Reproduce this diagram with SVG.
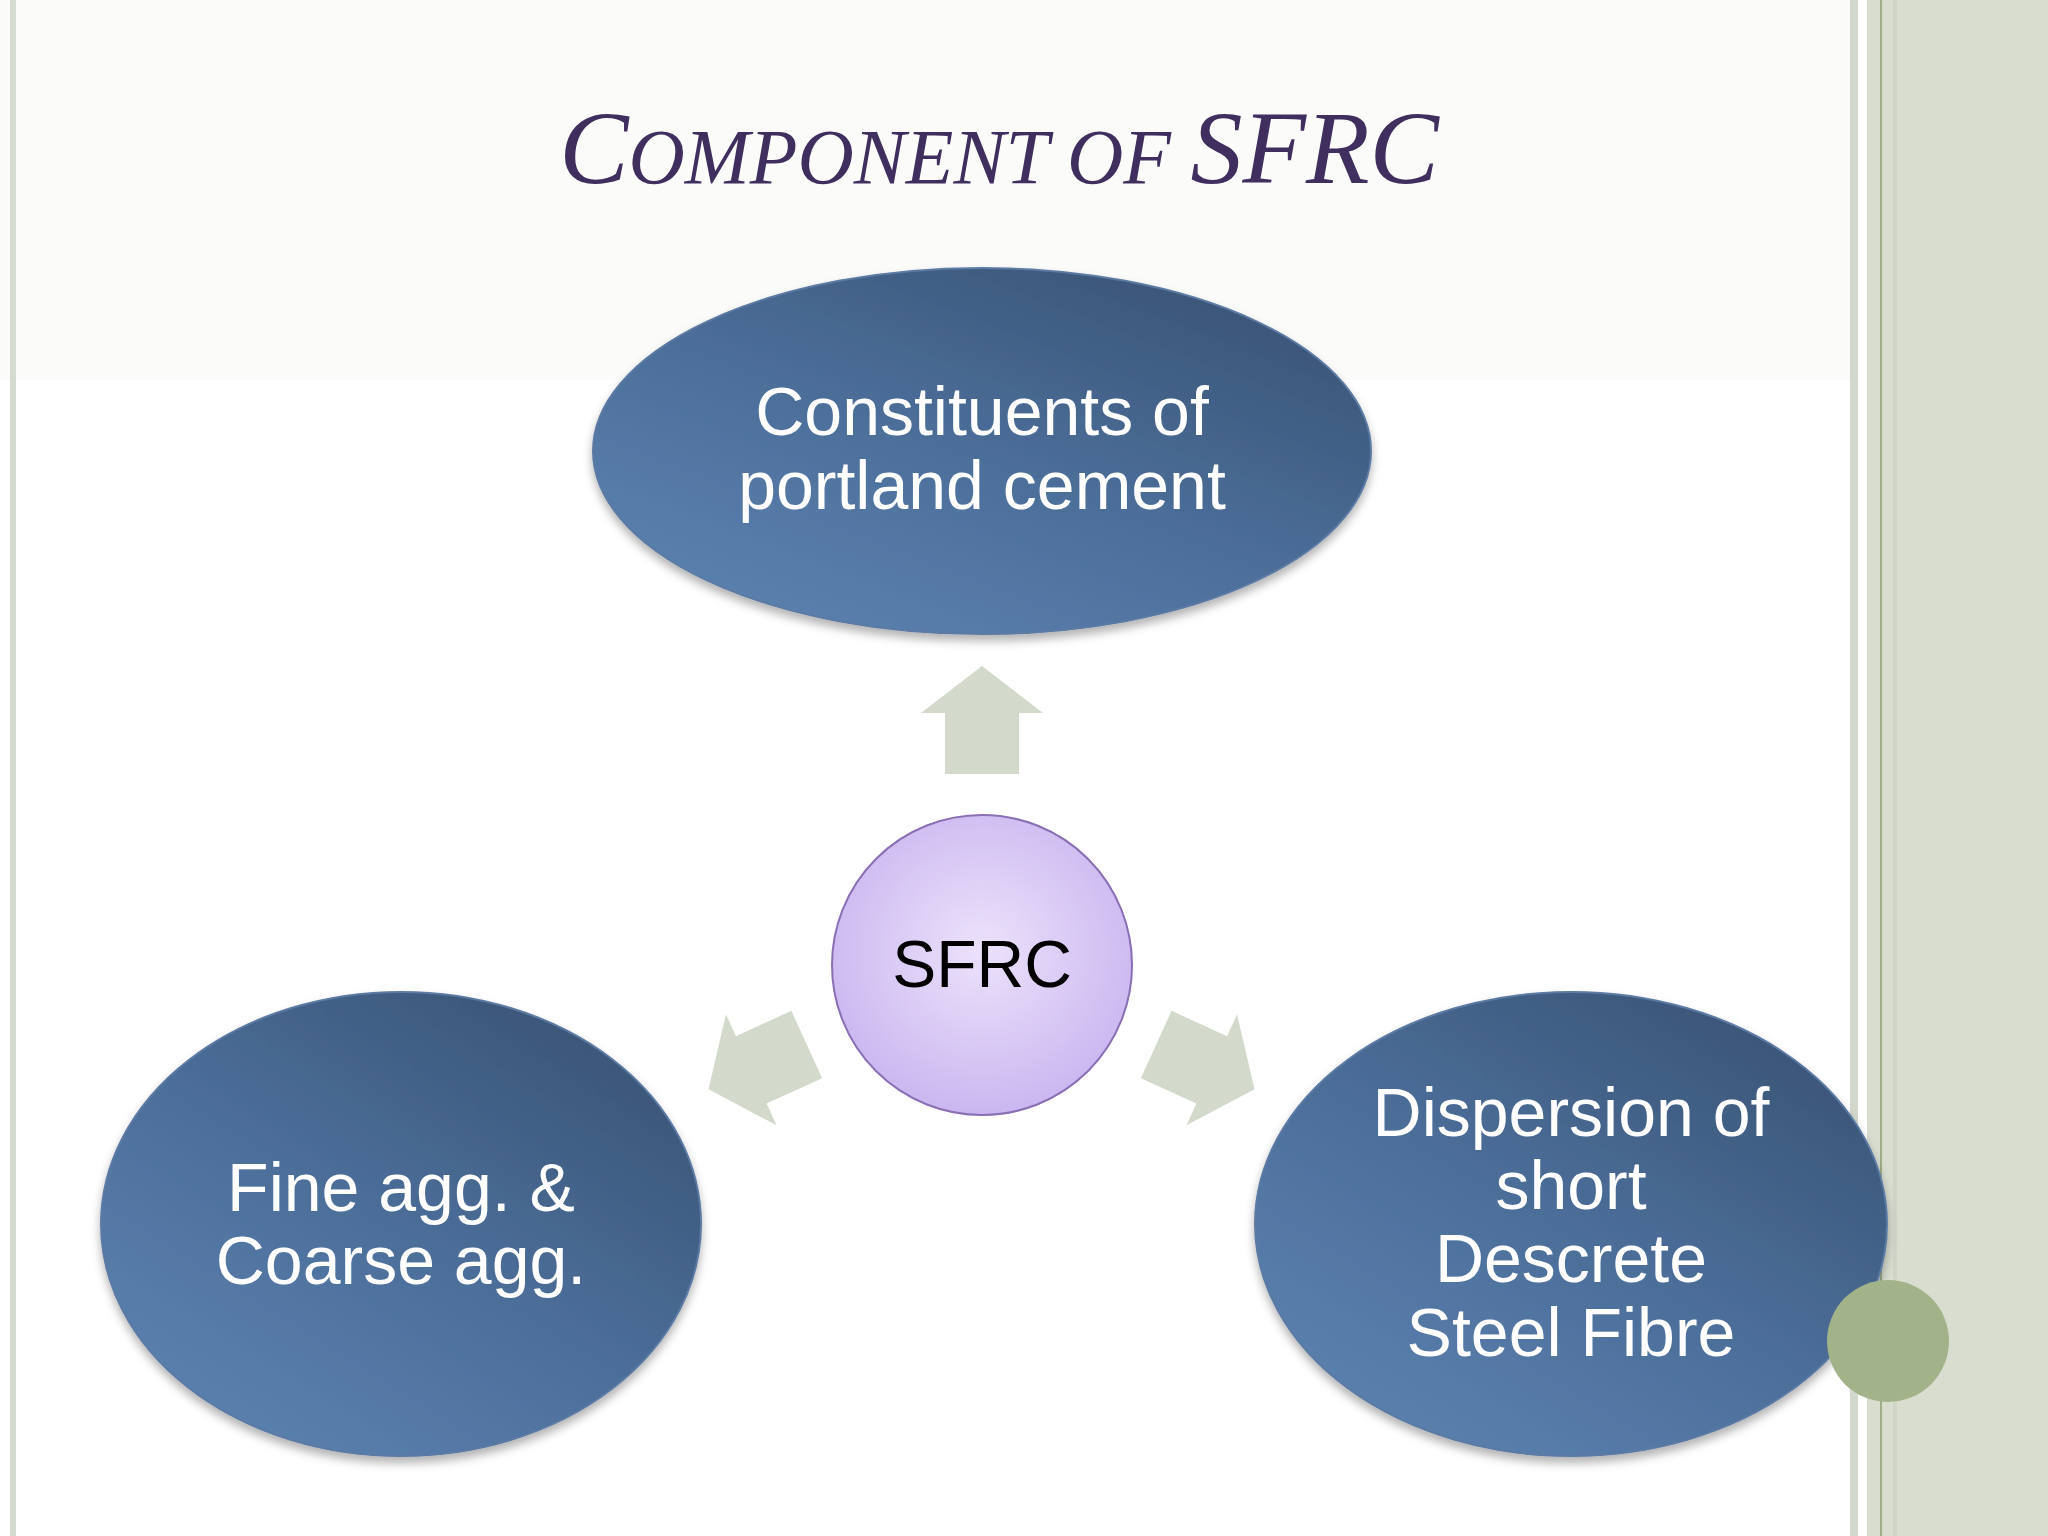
<svg xmlns="http://www.w3.org/2000/svg" width="2048" height="1536" viewBox="0 0 2048 1536">
<defs>
<linearGradient id="blue" x1="0.2" y1="0.9" x2="0.85" y2="0.1">
<stop offset="0" stop-color="#5a7fad"/><stop offset="0.5" stop-color="#4b6d98"/><stop offset="1" stop-color="#3a5677"/>
</linearGradient>
<radialGradient id="purp" cx="0.5" cy="0.45" r="0.6">
<stop offset="0" stop-color="#ece2fb"/><stop offset="1" stop-color="#c8b3ef"/>
</radialGradient>
<filter id="sh" x="-10%" y="-10%" width="120%" height="130%"><feDropShadow dx="0" dy="6" stdDeviation="5" flood-color="#000" flood-opacity="0.3"/></filter>
<path id="arr" d="M0,-61 L61,-14 L37,-14 L37,47 L-37,47 L-37,-14 L-61,-14 Z" fill="#d3dacb"/>
</defs>
<style>
.t{font-family:"Liberation Sans",Arial,sans-serif;font-size:68px;fill:#fff;text-anchor:middle}
.e{fill:url(#blue);stroke:#5b7aa3;stroke-width:2;filter:url(#sh)}
</style>
<rect width="2048" height="1536" fill="#fff"/>
<rect width="1850" height="380" fill="#fbfcf9"/>
<rect x="10" y="0" width="6" height="1536" fill="#d6dbd0"/>
<rect x="1850" y="0" width="8" height="1536" fill="#d3d8cc"/>
<rect x="1867" y="0" width="181" height="1536" fill="#d8ddd0"/>
<rect x="1880" y="0" width="2" height="1536" fill="#9fae86"/>
<rect x="1893" y="0" width="4" height="1536" fill="#cfd5c6"/>
<text x="999" y="183" font-family="Liberation Serif,serif" font-size="104" fill="#3f2e5e" text-anchor="middle" font-style="italic">C<tspan font-size="78">OMPONENT OF </tspan>SFRC</text>
<g id="connectors">
<use href="#arr" transform="translate(982,727)"/>
<use href="#arr" transform="translate(764,1064) rotate(-114.5)"/>
<use href="#arr" transform="translate(1199,1064) rotate(114.5)"/>
</g>
<g id="top"><ellipse class="e" cx="982" cy="451" rx="389" ry="183"/>
<text class="t" x="982" y="435">Constituents of</text><text class="t" x="982" y="509">portland cement</text></g>
<g id="left"><ellipse class="e" cx="401" cy="1224" rx="300" ry="232"/>
<text class="t" x="401" y="1211">Fine agg. &amp;</text><text class="t" x="401" y="1284">Coarse agg.</text></g>
<g id="right"><ellipse class="e" cx="1571" cy="1224" rx="316" ry="232"/>
<text class="t" x="1571" y="1136">Dispersion of</text><text class="t" x="1571" y="1209">short</text><text class="t" x="1571" y="1282">Descrete</text><text class="t" x="1571" y="1356">Steel Fibre</text></g>
<g id="center"><circle cx="982" cy="965" r="150" fill="url(#purp)" stroke="#8a6fb5" stroke-width="2"/>
<text x="982" y="987" font-family="Liberation Sans,Arial,sans-serif" font-size="66" text-anchor="middle" fill="#000">SFRC</text></g>
<circle cx="1888" cy="1341" r="61" fill="#a3b389"/>
</svg>
